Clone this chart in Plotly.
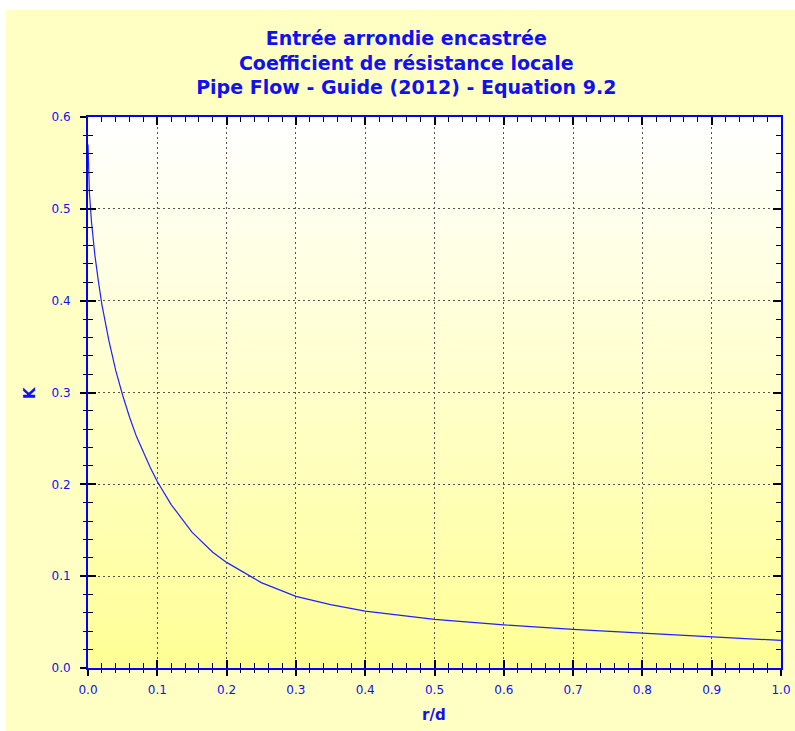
import plotly.graph_objects as go

# Data (r/d vs K)
r_d = [0.0, 0.001, 0.002, 0.005, 0.01, 0.015, 0.02, 0.03, 0.04, 0.05, 0.06, 0.07,
       0.08, 0.09, 0.10, 0.12, 0.15, 0.18, 0.20, 0.25, 0.30, 0.35, 0.40, 0.50,
       0.60, 0.70, 0.80, 0.90, 1.00]
K = [0.570, 0.534, 0.518, 0.486, 0.449, 0.421, 0.396, 0.357, 0.324, 0.297, 0.273, 0.252,
     0.234, 0.218, 0.203, 0.178, 0.148, 0.126, 0.115, 0.093, 0.078, 0.069, 0.062, 0.053,
     0.047, 0.042, 0.038, 0.034, 0.030]

title_lines = ["Entrée arrondie encastrée",
               "Coefficient de résistance locale",
               "Pipe Flow - Guide (2012) - Equation 9.2"]
x_title = "r/d"
y_title = "K"

BLUE = "#1010F0"
PANEL = "#FFFFC4"
FONT = "DejaVu Sans, Arial, sans-serif"

# plot-area pixel geometry (for placing outside texts)
L, R, T, B = 88, 14, 117, 63
PW, PH = 795 - L - R, 731 - T - B

fig = go.Figure()
fig.add_trace(go.Scatter(x=r_d, y=K, mode="lines",
                         line=dict(color="#2020FF", width=1.2),
                         hoverinfo="skip", showlegend=False))
# invisible companion trace so the overlay axes (crossing ticks) are drawn
fig.add_trace(go.Scatter(x=r_d, y=K, mode="lines", xaxis="x2", yaxis="y2",
                         line=dict(color="rgba(0,0,0,0)", width=0),
                         hoverinfo="skip", showlegend=False))

# Vertical gradient background for plot area (white at top -> yellow at bottom)
n = 60
shapes = []
for i in range(n):
    t = i / (n - 1)  # 0 bottom -> 1 top
    b = int(round(150 + (255 - 150) * t))
    shapes.append(dict(type="rect", xref="x domain", yref="y domain",
                       x0=0, x1=1, y0=i / n, y1=(i + 1) / n + 0.002,
                       fillcolor=f"rgb(255,255,{b})", line=dict(width=0),
                       layer="below"))
# thin white border at top-left of the picture
shapes.append(dict(type="rect", xref="paper", yref="paper",
                   x0=-0.2, x1=1.1, y0=(PH + T - 10) / PH, y1=1.3,
                   fillcolor="white", line=dict(width=0), layer="below"))
shapes.append(dict(type="rect", xref="paper", yref="paper",
                   x0=-0.2, x1=(6 - L) / PW, y0=-0.3, y1=1.3,
                   fillcolor="white", line=dict(width=0), layer="below"))

axis_common = dict(
    automargin=False,
    showline=True, linecolor="#0000FF", linewidth=2, mirror=True,
    ticks="outside", ticklen=6, tickwidth=1.5, tickcolor="black",
    showgrid=True, gridcolor="#555555", gridwidth=1, griddash="2px,3px",
    zeroline=False, tickfont=dict(family=FONT, size=12, color=BLUE),
    tickformat=".1f",
    minor=dict(ticks="outside", ticklen=3, tickwidth=1, tickcolor="black",
               dtick=0.02, showgrid=False),
)
overlay_common = dict(
    automargin=False, showline=False, mirror="ticks", showgrid=False,
    zeroline=False, showticklabels=False, ticks="inside", ticklen=8,
    tickwidth=1.5, tickcolor="black",
    minor=dict(ticks="inside", ticklen=5, tickwidth=1, tickcolor="black",
               dtick=0.02, showgrid=False),
)

fig.update_layout(
    width=795, height=731,
    margin=dict(l=L, r=R, t=T, b=B, autoexpand=False),
    paper_bgcolor=PANEL,
    plot_bgcolor="white",
    font=dict(family=FONT, color=BLUE),
    title=dict(text="<b>" + "<br>".join(title_lines) + "</b>",
               x=0.511, xanchor="center", xref="container",
               y=(731 - 45) / 731, yanchor="top", yref="container",
               font=dict(family=FONT, size=19, color=BLUE)),
    xaxis=dict(range=[0, 1], dtick=0.1, tick0=0, ticklabelstandoff=4,
               **axis_common),
    yaxis=dict(range=[0, 0.6], dtick=0.1, tick0=0, ticklabelstandoff=7,
               **axis_common),
    xaxis2=dict(overlaying="x", side="bottom", range=[0, 1], dtick=0.1, tick0=0,
                **overlay_common),
    yaxis2=dict(overlaying="y", side="left", range=[0, 0.6], dtick=0.1, tick0=0,
                **overlay_common),
    annotations=[
        dict(text=f"<b>{x_title}</b>", xref="paper", yref="paper",
             x=(434 - L) / PW, y=(PH + T - 715) / PH,
             xanchor="center", yanchor="middle", showarrow=False,
             font=dict(family=FONT, size=15, color=BLUE)),
        dict(text=f"<b>{y_title}</b>", xref="paper", yref="paper",
             x=(30 - L) / PW, y=(PH + T - 393) / PH,
             xanchor="center", yanchor="middle", showarrow=False, textangle=-90,
             font=dict(family=FONT, size=15, color=BLUE)),
    ],
    shapes=shapes,
    showlegend=False,
)

fig.write_html("out.html",
               config={"displayModeBar": False},
               post_script="document.body.style.margin='0';"
                           "document.body.style.padding='0';"
                           f"document.body.style.background='{PANEL}';"
                           f"document.documentElement.style.background='{PANEL}';"
                           "document.documentElement.style.overflow='hidden';")
